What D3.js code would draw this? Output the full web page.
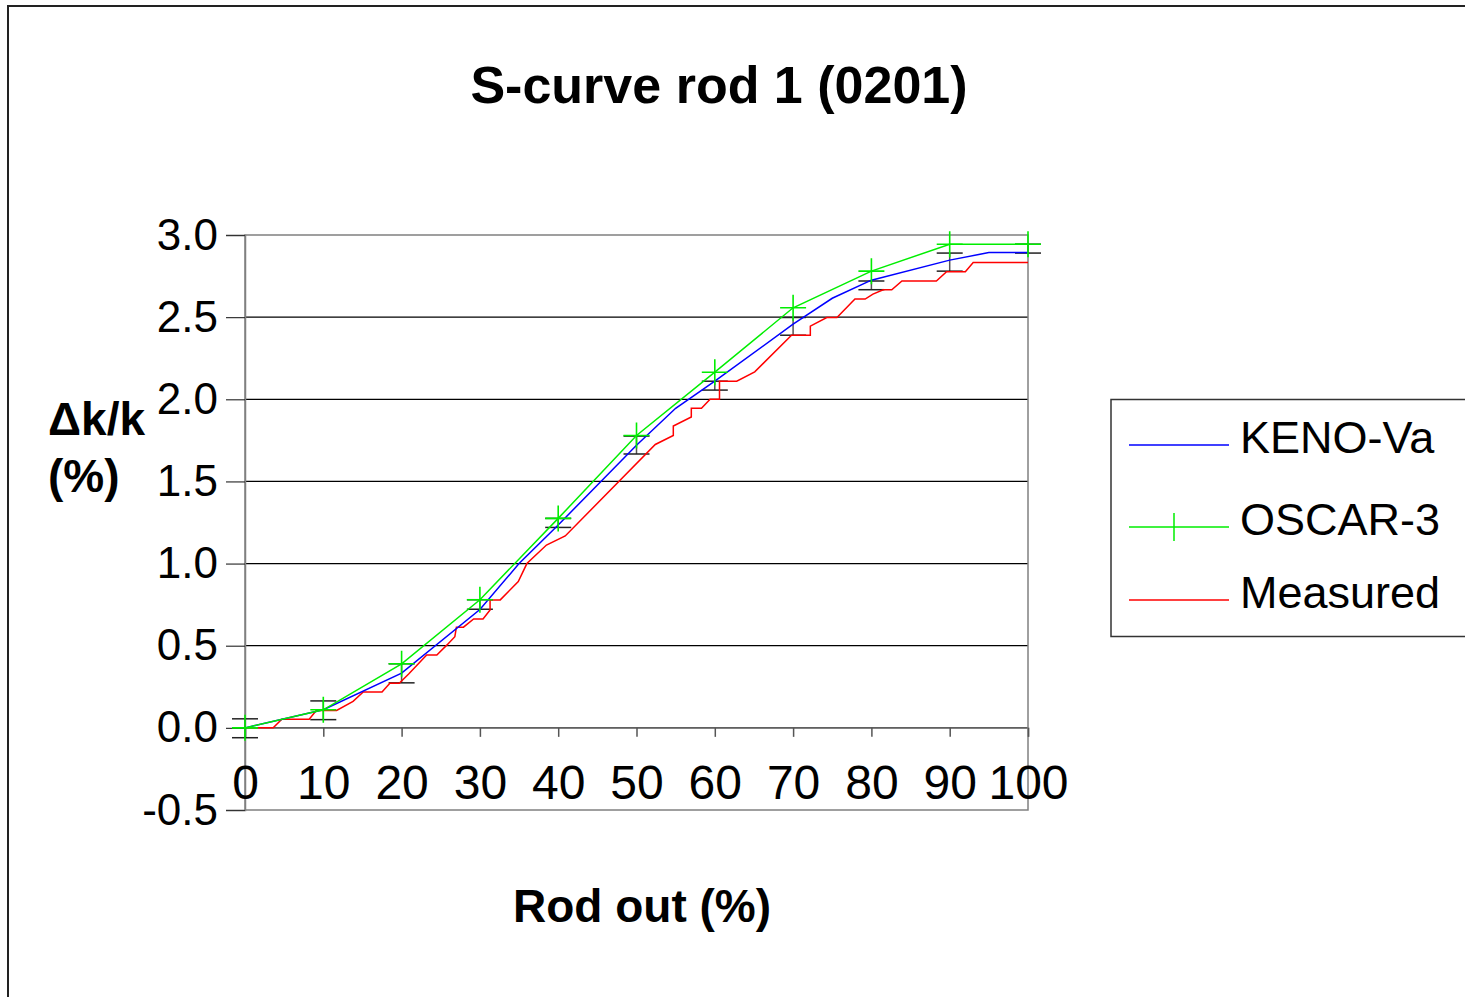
<!DOCTYPE html>
<html>
<head>
<meta charset="utf-8">
<script src="https://cdn.jsdelivr.net/npm/d3@7"></script>
<style>
  html, body { margin: 0; padding: 0; background: #fff; }
  svg { display: block; font-family: "Liberation Sans", Arial, sans-serif; }
</style>
</head>
<body>
<div id="chart"></div>
<script>
// ---- data ----
const xTicks = [0, 10, 20, 30, 40, 50, 60, 70, 80, 90, 100]
const yTicks = [-0.5, 0, 0.5, 1.0, 1.5, 2.0, 2.5, 3.0]
const gridValues = [0, 0.5, 1.0, 1.5, 2.0, 2.5]

const kenoX = [0, 10, 20, 30, 35, 40, 50, 55, 60, 70, 75, 80, 90, 95, 100]
const kenoY = [0, 0.11, 0.333, 0.72, 1.0, 1.235, 1.72, 1.945, 2.11, 2.457, 2.615, 2.725, 2.847, 2.893, 2.893]

const oscarX = [0, 10, 20, 30, 40, 50, 60, 70, 80, 90, 100]
const oscarY = [0, 0.11, 0.39, 0.78, 1.275, 1.78, 2.165, 2.557, 2.78, 2.944, 2.944]

const measX = [0, 3.6, 4.7, 8.2, 9.1, 11.7, 13.8, 15.1, 17.5, 18.5, 19.7, 20.9, 23.2, 24.5, 25.8,
  26.8, 27.0, 27.9, 29.2, 30.4, 31.3, 31.3, 32.6, 34.9, 36.0, 38.5, 40.9, 52.4, 54.7, 54.7,
  57.0, 57.0, 58.3, 59.4, 60.6, 60.6, 62.8, 65.1, 69.8, 72.2, 72.2, 74.3, 75.6, 77.9, 79.2,
  80.2, 81.5, 82.6, 83.9, 88.3, 89.6, 92.0, 93.0, 100]
const measY = [0, 0, 0.052, 0.052, 0.106, 0.106, 0.161, 0.219, 0.219, 0.272, 0.272, 0.328, 0.444, 0.444, 0.505,
  0.555, 0.613, 0.613, 0.663, 0.663, 0.718, 0.779, 0.779, 0.89, 1.0, 1.113, 1.168, 1.725, 1.78, 1.837,
  1.892, 1.945, 1.945, 2.0, 2.0, 2.11, 2.11, 2.167, 2.39, 2.39, 2.445, 2.498, 2.498, 2.61, 2.61,
  2.64, 2.667, 2.667, 2.72, 2.72, 2.777, 2.777, 2.833, 2.833]

// black error bars at every 10 %
const errX = [0, 10, 20, 30, 40, 50, 60, 70, 80, 90, 100]
const errLow = [-0.06, 0.05, 0.274, 0.722, 1.22, 1.667, 2.056, 2.39, 2.667, 2.78, 2.89]
const errHigh = [0.055, 0.164, 0.39, 0.78, 1.275, 1.776, 2.11, 2.498, 2.72, 2.89, 2.944]

const seriesNames = ["KENO-Va", "OSCAR-3", "Measured"]
const seriesColors = ["#0000ff", "#00ee00", "#ff0000"]

// ---- layout ----
const W = 1465, H = 997
const plot = {left: 245, right: 1028, top: 235, bottom: 810}

const svg = d3.select("#chart").append("svg")
  .attr("width", W)
  .attr("height", H)

// outer frame (only left and top edges are visible)
svg.append("path")
  .attr("d", `M8,${H} V6 H${W}`)
  .attr("fill", "none")
  .attr("stroke", "#222")
  .attr("stroke-width", 2)

const x = d3.scaleLinear().domain([0, 100]).range([plot.left, plot.right])
const y = d3.scaleLinear().domain([-0.5, 3]).range([plot.bottom, plot.top])

// gridlines
svg.append("g")
  .selectAll("line")
  .data(gridValues)
  .join("line")
  .attr("x1", plot.left).attr("x2", plot.right)
  .attr("y1", d => y(d)).attr("y2", d => y(d))
  .attr("stroke", "#000")
  .attr("stroke-width", 1.2)

// plot area border
svg.append("rect")
  .attr("x", plot.left).attr("y", plot.top)
  .attr("width", plot.right - plot.left)
  .attr("height", plot.bottom - plot.top)
  .attr("fill", "none")
  .attr("stroke", "#808080")
  .attr("stroke-width", 1.5)

// y axis
svg.append("g")
  .attr("transform", `translate(${plot.left},0)`)
  .call(d3.axisLeft(y).tickValues(yTicks).tickSize(19).tickPadding(8).tickFormat(d => d.toFixed(1)))
  .call(g => g.select(".domain").attr("stroke", "#808080").attr("stroke-width", 1.5))
  .call(g => g.selectAll(".tick line").attr("stroke", "#333").attr("stroke-width", 1.2))
  .call(g => g.selectAll("text")
    .attr("font-family", "Liberation Sans, Arial, sans-serif")
    .attr("font-size", 44)
    .attr("fill", "#000"))

// x axis crossing at 0
svg.append("g")
  .attr("transform", `translate(0,${y(0)})`)
  .call(d3.axisBottom(x).tickValues(xTicks).tickSize(9).tickPadding(28).tickFormat(d => d))
  .call(g => g.select(".domain").attr("stroke", "#808080").attr("stroke-width", 1.5))
  .call(g => g.selectAll(".tick line").attr("stroke", "#555").attr("stroke-width", 1.5))
  .call(g => g.selectAll("text")
    .attr("font-family", "Liberation Sans, Arial, sans-serif")
    .attr("font-size", 48)
    .attr("fill", "#000"))

// error bars
const errs = errX.map((d, i) => ({x: d, lo: errLow[i], hi: errHigh[i]}))
const eb = svg.append("g")
  .attr("stroke", "#222")
  .attr("stroke-width", 1.5)
  .selectAll("g")
  .data(errs)
  .join("g")
eb.append("line")
  .attr("x1", d => x(d.x)).attr("x2", d => x(d.x))
  .attr("y1", d => y(d.lo)).attr("y2", d => y(d.hi))
  .attr("stroke", "#555")
eb.append("line")
  .attr("x1", d => x(d.x) - 13).attr("x2", d => x(d.x) + 13)
  .attr("y1", d => y(d.lo)).attr("y2", d => y(d.lo))
eb.append("line")
  .attr("x1", d => x(d.x) - 13).attr("x2", d => x(d.x) + 13)
  .attr("y1", d => y(d.hi)).attr("y2", d => y(d.hi))

const line = d3.line().x(d => x(d[0])).y(d => y(d[1]))

const series = [
  d3.zip(kenoX, kenoY),
  d3.zip(oscarX, oscarY),
  d3.zip(measX, measY)
]

// draw measured first, then KENO, then OSCAR on top
;[2, 0, 1].forEach(i => {
  svg.append("path")
    .datum(series[i])
    .attr("fill", "none")
    .attr("stroke", seriesColors[i])
    .attr("stroke-width", 1.5)
    .attr("d", line)
})

// OSCAR "+" markers
const plus = d3.symbol().type(d3.symbolCross)
svg.append("g")
  .attr("stroke", seriesColors[1])
  .attr("stroke-width", 1.6)
  .selectAll("path")
  .data(series[1])
  .join("path")
  .attr("d", d => `M${x(d[0]) - 13},${y(d[1])}H${x(d[0]) + 13}M${x(d[0])},${y(d[1]) - 13}V${y(d[1]) + 13}`)

// titles
svg.append("text")
  .attr("x", 719).attr("y", 103)
  .attr("text-anchor", "middle")
  .attr("font-size", 52)
  .attr("font-weight", "bold")
  .text("S-curve rod 1 (0201)")

svg.append("text")
  .attr("x", 642).attr("y", 922)
  .attr("text-anchor", "middle")
  .attr("font-size", 46)
  .attr("font-weight", "bold")
  .text("Rod out (%)")

const yTitle = svg.append("text")
  .attr("font-size", 46)
  .attr("font-weight", "bold")
yTitle.append("tspan").attr("x", 48).attr("y", 435).text("Δk/k")
yTitle.append("tspan").attr("x", 48).attr("y", 492).text("(%)")

// legend
const legend = svg.append("g")
legend.append("rect")
  .attr("x", 1111).attr("y", 399.5)
  .attr("width", 400).attr("height", 237)
  .attr("fill", "#fff")
  .attr("stroke", "#333")
  .attr("stroke-width", 1.5)

const legendRows = [445, 527, 600]
const items = legend.selectAll("g.item")
  .data(seriesNames)
  .join("g")
  .attr("class", "item")
  .attr("transform", (d, i) => `translate(0,${legendRows[i]})`)
items.append("line")
  .attr("x1", 1129).attr("x2", 1229)
  .attr("stroke", (d, i) => seriesColors[i])
  .attr("stroke-width", 1.5)
items.filter((d, i) => i === 1)
  .append("line")
  .attr("x1", 1174).attr("x2", 1174)
  .attr("y1", -14).attr("y2", 14)
  .attr("stroke", seriesColors[1])
  .attr("stroke-width", 1.5)
items.append("text")
  .attr("x", 1240).attr("y", 8)
  .attr("font-size", 45)
  .text(d => d)
</script>
</body>
</html>
